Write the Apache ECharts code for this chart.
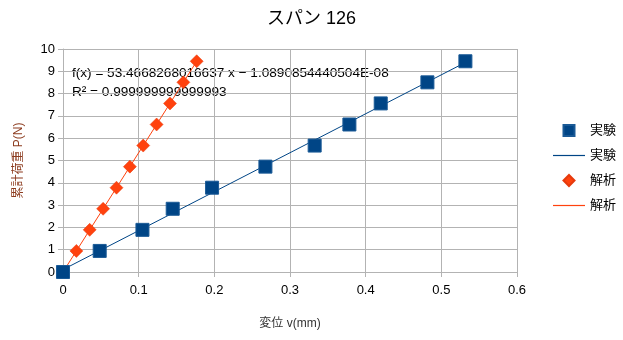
<!DOCTYPE html>
<html>
<head>
<meta charset="utf-8">
<script src="https://cdn.jsdelivr.net/npm/echarts@6/dist/echarts.min.js"></script>
<style>
  html, body { margin: 0; padding: 0; background: #fff; }
  #chart { width: 623px; height: 340px; }
</style>
</head>
<body>
<div id="chart"></div>
<script>
// Cumulative load P (N) for each loading step
const loads = [0, 0.945, 1.89, 2.835, 3.78, 4.725, 5.67, 6.615, 7.56, 8.505, 9.45];
// Measured deflection v (mm)
const expDisp = [0, 0.0485, 0.105, 0.145, 0.197, 0.2675, 0.3326, 0.3785, 0.4199, 0.4816, 0.5318];
// Analytical deflection v (mm)
const anaDisp = [0, 0.0177, 0.0353, 0.0530, 0.0707, 0.0884, 0.1060, 0.1237, 0.1414, 0.1591, 0.1767];

const xTicks = [0, 0.1, 0.2, 0.3, 0.4, 0.5, 0.6];
const yTicks = [0, 1, 2, 3, 4, 5, 6, 7, 8, 9, 10];

const titleText = 'スパン 126';
const xName = '変位 v(mm)';
const yName = '累計荷重 P(N)';
const eqLine1 = 'f(x) = 53.4668268016637 x − 1.0890854440504E-08';
const eqLine2 = 'R² = 0.999999999999993';

const FONT = '"Liberation Sans", "Noto Sans CJK JP", sans-serif';

// Least-squares straight line through the given points, drawn across their x-range
function trend(xs, ys) {
  const n = xs.length;
  let sx = 0, sy = 0, sxx = 0, sxy = 0;
  for (let i = 0; i < n; i++) { sx += xs[i]; sy += ys[i]; sxx += xs[i] * xs[i]; sxy += xs[i] * ys[i]; }
  const b = (n * sxy - sx * sy) / (n * sxx - sx * sx);
  const a = (sy - b * sx) / n;
  const x0 = Math.min(...xs), x1 = Math.max(...xs);
  return [[x0, a + b * x0], [x1, a + b * x1]];
}

const zip = (xs, ys) => xs.map((x, i) => [x, ys[i]]);

const BLUE = '#004586';
const ORANGE = '#ff420e';

const chart = echarts.init(document.getElementById('chart'), null, { renderer: 'canvas' });
chart.setOption({
  backgroundColor: '#fff',
  animation: false,
  textStyle: { fontFamily: FONT },
  title: {
    text: titleText,
    left: 'center',
    top: 5,
    textStyle: { fontFamily: FONT, fontSize: 18, fontWeight: 'normal', color: '#000' }
  },
  grid: { left: 63, right: 106, top: 49, bottom: 68, containLabel: false },
  xAxis: {
    type: 'value',
    min: xTicks[0],
    max: xTicks[xTicks.length - 1],
    interval: 0.1,
    name: xName,
    nameLocation: 'middle',
    nameGap: 46,
    nameTextStyle: { fontFamily: FONT, fontSize: 12, color: '#333' },
    axisLine: { show: true, lineStyle: { color: '#b3b3b3', width: 1 } },
    axisTick: { show: true, length: 5, lineStyle: { color: '#b3b3b3' } },
    axisLabel: { fontFamily: FONT, fontSize: 13, color: '#000', margin: 12 },
    splitLine: { show: true, lineStyle: { color: '#b3b3b3', width: 1 } }
  },
  yAxis: {
    type: 'value',
    min: yTicks[0],
    max: yTicks[yTicks.length - 1],
    interval: 1,
    name: yName,
    nameLocation: 'middle',
    nameGap: 38,
    nameTextStyle: { fontFamily: FONT, fontSize: 12, color: '#8c3b1e' },
    axisLine: { show: true, lineStyle: { color: '#b3b3b3', width: 1 } },
    axisTick: { show: true, length: 5, lineStyle: { color: '#b3b3b3' } },
    axisLabel: { fontFamily: FONT, fontSize: 13, color: '#000', margin: 8 },
    splitLine: { show: true, lineStyle: { color: '#b3b3b3', width: 1 } }
  },
  legend: {
    orient: 'vertical',
    left: 548,
    top: 119,
    itemWidth: 32,
    itemHeight: 11,
    itemGap: 12,
    textStyle: { fontFamily: FONT, fontSize: 13, color: '#000' },
    formatter: name => name.trim(),
    data: [
      { name: '実験', icon: 'path://M0,0h10v10h-10z' },
      { name: '実験 ', icon: 'path://M0,0h32v1.2h-32z' },
      { name: '解析', icon: 'path://M5,0L10,5L5,10L0,5z' },
      { name: '解析 ', icon: 'path://M0,0h32v1.2h-32z' }
    ]
  },
  graphic: [
    {
      type: 'text',
      left: 72,
      top: 66,
      style: { text: eqLine1, font: '13.6px ' + FONT, fill: '#000' }
    },
    {
      type: 'text',
      left: 72,
      top: 85,
      style: { text: eqLine2, font: '13.6px ' + FONT, fill: '#000' }
    }
  ],
  series: [
    {
      name: '実験 ',
      type: 'line',
      data: trend(expDisp, loads),
      showSymbol: false,
      symbol: 'none',
      lineStyle: { color: BLUE, width: 1 },
      itemStyle: { color: BLUE },
      z: 1
    },
    {
      name: '解析 ',
      type: 'line',
      data: trend(anaDisp, loads),
      showSymbol: false,
      symbol: 'none',
      lineStyle: { color: ORANGE, width: 1 },
      itemStyle: { color: ORANGE },
      z: 1
    },
    {
      name: '解析',
      type: 'scatter',
      data: zip(anaDisp, loads),
      symbol: 'diamond',
      symbolSize: 13,
      itemStyle: { color: ORANGE, borderColor: '#e63a0c', borderWidth: 0.5, opacity: 1 },
      z: 2
    },
    {
      name: '実験',
      type: 'scatter',
      data: zip(expDisp, loads),
      symbol: 'rect',
      symbolSize: 13,
      itemStyle: { color: BLUE, borderColor: '#1a5a96', borderWidth: 1, opacity: 1 },
      z: 3
    }
  ]
});
</script>
</body>
</html>
